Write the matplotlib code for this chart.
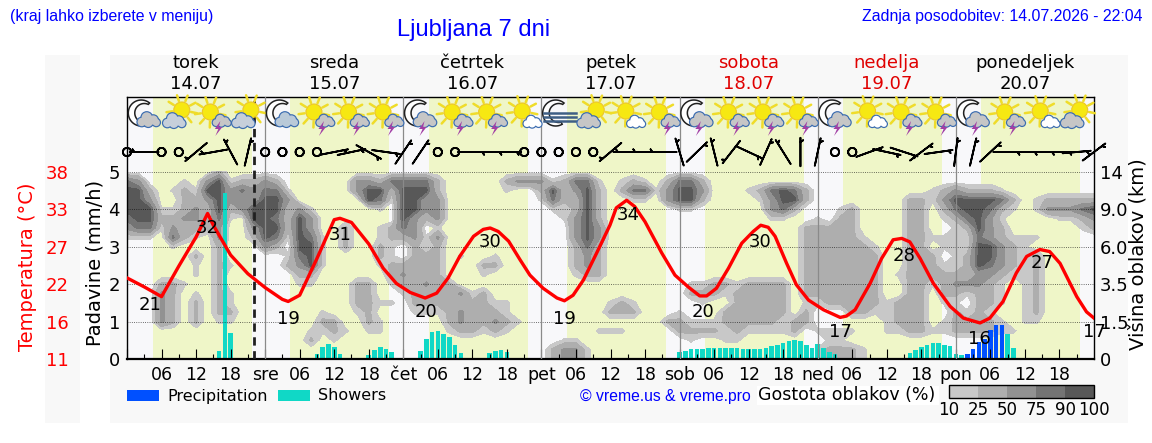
import numpy as np
import matplotlib
matplotlib.use('Agg')
import matplotlib.pyplot as plt
from matplotlib.patches import Circle, Polygon, Rectangle

plt.rcParams['font.family'] = 'DejaVu Sans'

WIDTH, HEIGHT = 1152, 443

day_names = ['torek', 'sreda', 'četrtek', 'petek', 'sobota', 'nedelja', 'ponedeljek']
day_dates = ['14.07', '15.07', '16.07', '17.07', '18.07', '19.07', '20.07']
day_colors = ['black', 'black', 'black', 'black', '#e00000', '#e00000', 'black']
day_short = ['', 'sre', 'čet', 'pet', 'sob', 'ned', 'pon']

rain_ticks = [0, 1, 2, 3, 4, 5]
temp_tick_labels = ['11', '16', '22', '27', '33', '38']
height_tick_labels = ['0', '1.5', '3.5', '6.0', '9.0', '14']
TEMP_BASE = 11
TEMP_PER_UNIT = 5.4
NOW_HOUR = 22.07

# daylight periods, hours from Tuesday 00:00
sun_up = [4.5, 28.4, 52.4, 76.4, 100.4, 124.4, 148.4]
sun_down = [21.7, 45.6, 69.6, 93.7, 117.7, 141.6, 165.6]

temp_hours = [0, 3, 6, 9, 10, 12, 14, 15, 18, 21, 24, 27, 28, 30, 33, 36, 37, 39, 42,
              44.5, 46.8, 49.2, 51.8, 53.8, 55.8, 57.8, 60.2, 61.9, 63.1, 64.5, 66.3,
              68.3, 70, 72.3, 74.7, 76, 77.5, 79.3, 81.6, 83.9, 85, 86.8, 88.2, 90,
              92.9, 95.2, 97.5, 99.5, 100.7, 102.4, 104.5, 106.8, 108.8, 110.1, 111.4,
              112.6, 114.6, 116.3, 118.4, 121, 123.9, 125, 126.5, 129.1, 131.1, 133.1,
              134.6, 136, 137.8, 140.1, 143, 145.3, 148.2, 149.9, 152.2, 154.5, 156.3,
              158.6, 160.3, 162.1, 165, 166.7, 168]
temp_values = [22.7, 21.4, 20.0, 24.4, 25.8, 28.6, 32.0, 30.3, 26.0, 23.3, 21.3, 19.6, 19.3,
               20.2, 25.5, 31.1, 31.3, 30.7, 27.6, 24.1, 21.9, 20.6, 19.8, 20.5, 22.7, 25.8,
               28.7, 29.7, 29.9, 29.4, 28.0, 25.3, 23.1, 21.2, 19.8, 19.4, 20.2, 22.4, 26.3,
               30.3, 32.8, 33.9, 33.0, 30.8, 26.3, 23.1, 21.4, 20.1, 20.1, 21.2, 24.1, 27.7,
               29.4, 30.3, 30.0, 28.7, 24.8, 21.7, 19.5, 18.1, 17.0, 17.2, 18.1, 21.9, 25.5,
               28.2, 28.4, 27.9, 25.5, 21.9, 18.6, 16.9, 16.2, 16.9, 19.3, 23.4, 25.8, 26.8,
               26.5, 24.8, 20.0, 17.8, 16.9]

extreme_hours = [4, 14, 28, 37, 52, 63, 76, 87, 100, 110, 124, 135, 148, 159, 168]
extreme_values = [21, 32, 19, 31, 20, 30, 19, 34, 20, 30, 17, 28, 16, 27, 17]

shower_hours = [16, 17, 18, 33, 34, 35, 36, 37, 42, 43, 44, 45, 46,
                51, 52, 53, 54, 55, 56, 57, 58, 63, 64, 65, 66,
                96, 97, 98, 99, 100, 101, 102, 103, 104, 105, 106, 107, 108, 109, 110, 111,
                112, 113, 114, 115, 116, 117, 118, 119, 120, 121, 122, 123,
                136, 137, 138, 139, 140, 141, 142, 143, 144, 145, 153, 154]
shower_values = [0.22, 4.44, 0.70, 0.14, 0.33, 0.41, 0.33, 0.14, 0.11, 0.25, 0.33, 0.28, 0.20,
                 0.22, 0.54, 0.73, 0.76, 0.68, 0.58, 0.38, 0.17, 0.17, 0.22, 0.25, 0.20,
                 0.20, 0.22, 0.28, 0.28, 0.28, 0.30, 0.30, 0.30, 0.30, 0.30, 0.30, 0.28, 0.28,
                 0.28, 0.28, 0.30, 0.36, 0.38, 0.44, 0.49, 0.52, 0.47, 0.38, 0.30, 0.41, 0.30,
                 0.20, 0.14, 0.16, 0.25, 0.33, 0.38, 0.44, 0.44, 0.38, 0.36, 0.14, 0.12, 0.68, 0.30]
precip_hours = [146, 147, 148, 149, 150, 151, 152]
precip_values = [0.14, 0.28, 0.46, 0.54, 0.78, 0.92, 0.92]

# wind every 3 h: direction it blows from (deg) and speed (kt), 0 means calm
wind_dir = [0, 270, 0, 0, 230, 260, 332, 13, 0, 0, 0, 0, 79, 78, 119, 98, 34, 34, 0, 0,
            90, 90, 90, 0, 0, 0, 0, 0, 230, 270, 270, 270, 343, 46, 346, 218, 115, 24, 328, 0,
            12, 0, 0, 70, 102, 108, 53, 82, 7, 13, 47, 90, 90, 90, 90, 85, 53]
wind_speed = [0, 5, 0, 0, 5, 5, 5, 5, 0, 0, 0, 0, 5, 5, 5, 5, 5, 5, 0, 0,
              5, 5, 5, 0, 0, 0, 0, 0, 5, 5, 5, 5, 5, 5, 5, 5, 5, 5, 5, 5,
              5, 0, 0, 5, 5, 5, 5, 5, 5, 5, 5, 5, 5, 5, 5, 5, 5]

# one symbol every 6 h, starting at 03:00
icon_codes = ['moon_gray', 'sun_blue', 'sun_storm', 'sun_blue',
              'moon_blue', 'sun_storm', 'sun_storm', 'sun_storm',
              'moon_storm', 'sun_storm', 'sun_storm', 'sun_white',
              'moon_fog', 'sun_gray', 'sun_white', 'sun_storm',
              'moon_storm', 'sun_storm', 'sun_storm', 'sun_storm',
              'moon_storm', 'sun_white', 'sun_storm', 'sun_storm',
              'moon_storm', 'sun_storm', 'sun_white', 'sun_gray']

# cloud density class per 2 h column (one group per day), rows from 5.0 down to 0 in 0.25 steps
cloud_rows = [
    '000000002000 000000000000 000000000000 000000000000 000000000000 000000000000 000000000000 0',
    '430001035122 320000003324 444200000233 312441012102 442000000000 000000000000 000000000000 0',
    '552012155343 441000003552 555200000100 252352024413 553000124542 000000000012 322210000000 0',
    '553002235333 553000000541 553300000000 142252001103 552000013552 000000002213 555542012222 2',
    '555112325235 552310000010 553300000000 011252000000 110000003420 001200002202 455421013334 5',
    '455223324105 542530000000 532300000000 001352000000 000000001100 102200002201 245310000112 3',
    '344132223003 552530020012 430100000000 000353000000 000000000002 222200002200 125320000001 2',
    '111042103002 541541020012 231300000000 000353000000 000000000002 222210002211 114321110000 0',
    '000010002000 320551020021 021200000000 000242000000 000000000002 222221002201 115532100000 0',
    '000000202000 001451000021 022201001000 000232000000 000000000002 222222002220 125532120000 0',
    '000000102100 002351000012 222200022000 000232000000 000000000002 222222002221 125432120000 0',
    '000000102000 000220000002 322200010000 000122000000 000000000002 222222012222 223321120000 0',
    '000221002000 000110002201 223220000000 000000000000 011221222202 222222002212 333210120000 0',
    '000320102100 000000002200 122223120000 000000000000 022212222202 222222002202 212210120000 0',
    '000320202100 000000002211 022222221100 000000121000 001002222201 122222122201 102210120000 0',
    '000320202200 000001001200 011123222100 000000222000 100022222202 000221122200 212100120000 0',
    '000320201100 000002200210 000023223210 000000000002 211122222122 000000122201 222210110000 0',
    '000000000000 000011210110 000012212100 000001110000 222212111120 111100112211 222211000000 0',
    '000000000000 000020100000 000000000000 001100000000 010011000000 011000000000 000000000000 0',
    '000000000000 000000000000 000000000000 023310000000 000000000000 122210000000 000000000000 0',
    '000000000000 000000000000 000000000000 023310000000 000000000000 122210000000 000000000000 0',
]
cloud_class_percent = [0, 13, 30, 56, 80, 95]
cloud_levels = [10, 25, 50, 75, 90, 100]
cloud_colors = ['#c8c8c8', '#aeaeae', '#929292', '#747474', '#585858']

cloud_grid = np.array([[cloud_class_percent[int(c)] for c in row.replace(' ', '')]
                       for row in cloud_rows], dtype=float)
cloud_x = np.arange(cloud_grid.shape[1]) * 2
cloud_y = np.arange(cloud_grid.shape[0])[::-1] * 0.25


def fig_rect(x0, y0, x1, y1):
    return [x0 / WIDTH, 1 - y1 / HEIGHT, (x1 - x0) / WIDTH, (y1 - y0) / HEIGHT]


def put_text(x, y, s, **kw):
    kw.setdefault('ha', 'center')
    kw.setdefault('va', 'center')
    return fig.text(x / WIDTH, 1 - y / HEIGHT, s, **kw)


def draw_sun(pax, cx, cy, r=8.0):
    for a in np.deg2rad(np.arange(0, 360, 40) + 12):
        pax.plot([cx + (r + 1.5) * np.cos(a), cx + (r + 7.5) * np.cos(a)],
                 [cy + (r + 1.5) * np.sin(a), cy + (r + 7.5) * np.sin(a)],
                 color='#efdc2a', lw=1.8, solid_capstyle='round', zorder=1)
    pax.add_patch(Circle((cx, cy), r, fc='#f6e812', ec='#ecc52a', lw=0.8, zorder=2))


def draw_cloud(pax, cx, cy, scale, fill):
    lobes = [(-6.5, 2.0, 4.2), (-1.5, -2.5, 5.2), (5.0, 0.0, 4.6), (0.0, 2.5, 4.4), (8.0, 2.5, 3.6)]
    for lx, ly, lr in lobes:
        pax.add_patch(Circle((cx + lx * scale, cy + ly * scale), lr * scale + 1.2,
                             fc='#3b6cb0', ec='none', zorder=3))
    for lx, ly, lr in lobes:
        pax.add_patch(Circle((cx + lx * scale, cy + ly * scale), lr * scale,
                             fc=fill, ec='none', zorder=4))


def draw_bolt(pax, cx, cy):
    shape = np.array([(2.0, -7), (-3.5, 1), (0, 1), (-3.0, 8), (4.0, -1), (0.5, -1)])
    pax.add_patch(Polygon(shape + [cx, cy], fc='#a23fa5', ec='none', zorder=5))


def draw_moon(pax, cx, cy):
    outer = np.deg2rad(np.linspace(50, 300, 40))
    inner = np.deg2rad(np.linspace(285, 65, 40))
    xs = np.r_[cx + 13 * np.cos(outer), cx + 3 + 9.5 * np.cos(inner)]
    ys = np.r_[cy - 13 * np.sin(outer), cy - 9.5 * np.sin(inner)]
    pax.add_patch(Polygon(np.c_[xs, ys], fc='white', ec='#202020', lw=1.1, zorder=2))


def draw_icon(pax, code, cx, cy):
    if code.startswith('moon'):
        draw_moon(pax, cx - 3, cy - 2)
        if code == 'moon_fog':
            for dy in [-2, 2, 6]:
                pax.plot([cx - 15, cx + 17], [cy + dy, cy + dy], color='#3f5f85', lw=1.8, zorder=3)
            return
        fill = '#b9c9d8' if code == 'moon_blue' else '#c6c6c6'
        draw_cloud(pax, cx + 4, cy + 5, 1.0, fill)
        if code == 'moon_storm':
            draw_bolt(pax, cx + 2, cy + 13)
    elif code == 'sun_storm':
        draw_sun(pax, cx - 3, cy - 3)
        draw_cloud(pax, cx + 8, cy + 6, 0.8, '#c6c6c6')
        draw_bolt(pax, cx + 5, cy + 13)
    elif code == 'sun_white':
        draw_sun(pax, cx - 2, cy - 4)
        draw_cloud(pax, cx + 8, cy + 7, 0.8, 'white')
    else:
        draw_sun(pax, cx + 3, cy - 5)
        draw_cloud(pax, cx - 5, cy + 6, 1.0, '#c6cfda' if code == 'sun_blue' else '#c6c6c6')


fig = plt.figure(figsize=(WIDTH / 100, HEIGHT / 100), dpi=100, facecolor='white')

fig.add_artist(Rectangle((45 / WIDTH, 1 - 423 / HEIGHT), 35 / WIDTH, 368 / HEIGHT,
                         transform=fig.transFigure, fc='#f8f8f8', ec='none', zorder=-5))
fig.add_artist(Rectangle((110 / WIDTH, 1 - 423 / HEIGHT), 1018 / WIDTH, 368 / HEIGHT,
                         transform=fig.transFigure, fc='#f8f8f8', ec='none', zorder=-5))

ax = fig.add_axes(fig_rect(127, 97, 1094, 359), facecolor='#f8f8fa')
ax.set_xlim(0, 168)
ax.set_ylim(0, 7)

for start, end in zip(sun_up, sun_down):
    ax.axvspan(start, end, color='#eff6c8', lw=0, zorder=0)

clouds = ax.contourf(cloud_x, cloud_y, cloud_grid, levels=cloud_levels, colors=cloud_colors, zorder=1)

ax.bar(shower_hours, shower_values, width=0.8, color='#10d8c6', zorder=2, label='Showers')
ax.bar(precip_hours, precip_values, width=0.8, color='#0050ff', zorder=2, label='Precipitation')

ax.set_axisbelow(False)
ax.grid(axis='y', color='black', linestyle=':', linewidth=0.6, alpha=0.75)
for day in range(1, 7):
    ax.axvline(day * 24, color='#8a8a8a', lw=0.9, zorder=2.6)
ax.axvline(NOW_HOUR, color='#202020', lw=2.0, linestyle=(0, (3, 2)), zorder=2.7)

# calm hours come out as the empty circles of the barb glyph
wind_rad = np.deg2rad(wind_dir)
wind_u = -np.array(wind_speed) * np.sin(wind_rad)
wind_v = -np.array(wind_speed) * np.cos(wind_rad)
wind_x = np.arange(len(wind_dir)) * 3
ax.barbs(wind_x, np.full(len(wind_dir), 5.53), wind_u, wind_v, pivot='middle', length=6.4,
         linewidth=1.3, color='black', clip_on=False, zorder=4,
         sizes=dict(emptybarb=0.145, spacing=0.1, height=0.19))

ax.set_yticks(rain_ticks)
ax.tick_params(axis='y', length=0, labelsize=13, pad=5)
major = np.arange(6, 168, 6)
major = major[major % 24 != 0]
ax.set_xticks(np.arange(0, 168, 24).tolist() + major.tolist())
ax.set_xticklabels(day_short + [f'{h % 24:02d}' for h in major])
ax.set_xticks(np.arange(3, 168, 6), minor=True)
ax.tick_params(axis='x', which='major', direction='in', length=7, width=0.8, labelsize=12.5, pad=5)
ax.tick_params(axis='x', which='minor', direction='in', length=3.5, width=0.8)
for spine in ax.spines.values():
    spine.set_linewidth(1.0)
ax.spines['bottom'].set_linewidth(1.6)

# red temperature curve shares the panel, its scale sits far left
temp_ax = ax.twinx()
temp_ax.set_ylim(TEMP_BASE, TEMP_BASE + 7 * TEMP_PER_UNIT)
temp_ax.plot(temp_hours, temp_values, color='red', lw=2.4, solid_joinstyle='round', zorder=2)
for hour, value in zip(extreme_hours, extreme_values):
    temp_ax.annotate(str(value), (hour, value), xytext=(0, -15), textcoords='offset pixels',
                     ha='center', va='center', fontsize=13, color='black', zorder=3,
                     annotation_clip=False)
temp_ax.yaxis.tick_left()
temp_ax.set_yticks([TEMP_BASE + t * TEMP_PER_UNIT for t in rain_ticks])
temp_ax.set_yticklabels(temp_tick_labels)
temp_ax.tick_params(axis='y', length=0, labelsize=13, labelcolor='red', pad=42)
temp_ax.spines[['left', 'right', 'top', 'bottom']].set_visible(False)

height_ax = ax.twinx()
height_ax.set_ylim(0, 7)
height_ax.set_yticks(rain_ticks)
height_ax.set_yticklabels(height_tick_labels)
height_ax.tick_params(axis='y', length=0, labelsize=13, pad=4)
height_ax.spines[['left', 'right', 'top', 'bottom']].set_visible(False)
height_ax.patch.set_visible(False)

# weather symbols are drawn in a pixel-sized overlay
icon_ax = fig.add_axes([0, 0, 1, 1], facecolor='none')
icon_ax.set_xlim(0, WIDTH)
icon_ax.set_ylim(HEIGHT, 0)
icon_ax.axis('off')
for k, code in enumerate(icon_codes):
    draw_icon(icon_ax, code, 127 + (3 + 6 * k) * 967 / 168, 115)

for k in range(7):
    center = 127 + (k + 0.5) * 967 / 7
    put_text(center, 63, day_names[k], fontsize=13, color=day_colors[k])
    put_text(center, 84, day_dates[k], fontsize=13, color=day_colors[k])

put_text(10, 16, '(kraj lahko izberete v meniju)', ha='left', fontsize=11.4,
         color='#0000ff', family='Liberation Sans')
put_text(474, 30, 'Ljubljana 7 dni', fontsize=17, color='#0000ff', family='Liberation Sans')
put_text(1142, 16, 'Zadnja posodobitev: 14.07.2026 - 22:04', ha='right', fontsize=11.42,
         color='#0000ff', family='Liberation Sans')

put_text(28, 267, 'Temperatura (°C)', rotation=90, fontsize=14, color='red')
put_text(95, 263, 'Padavine (mm/h)', rotation=90, fontsize=14)
put_text(1138, 254, 'Višina oblakov (km)', rotation=90, fontsize=14)

# rain legend
icon_ax.add_patch(Rectangle((127, 390), 32, 11, fc='#0050ff', ec='none'))
put_text(167, 396, 'Precipitation', ha='left', fontsize=11.5)
icon_ax.add_patch(Rectangle((278, 390), 32, 11, fc='#10d8c6', ec='none'))
put_text(318, 396, 'Showers', ha='left', fontsize=11.5)
put_text(665, 397, '© vreme.us & vreme.pro', fontsize=11.3, color='#0000ff', family='Liberation Sans')
icon_ax.add_patch(Rectangle((757, 386), 182, 19, fc='white', ec='none'))
put_text(847, 395, 'Gostota oblakov (%)', fontsize=12.5, zorder=6)

cbar_ax = fig.add_axes(fig_rect(949, 385, 1094, 398))
cbar = fig.colorbar(clouds, cax=cbar_ax, orientation='horizontal', spacing='uniform')
cbar.set_ticks(cloud_levels)
cbar.set_ticklabels([str(v) for v in cloud_levels])
cbar.ax.tick_params(length=0, labelsize=12, pad=2)
cbar.outline.set_linewidth(1.0)

fig.savefig('out.png', dpi=100)
plt.close(fig)
